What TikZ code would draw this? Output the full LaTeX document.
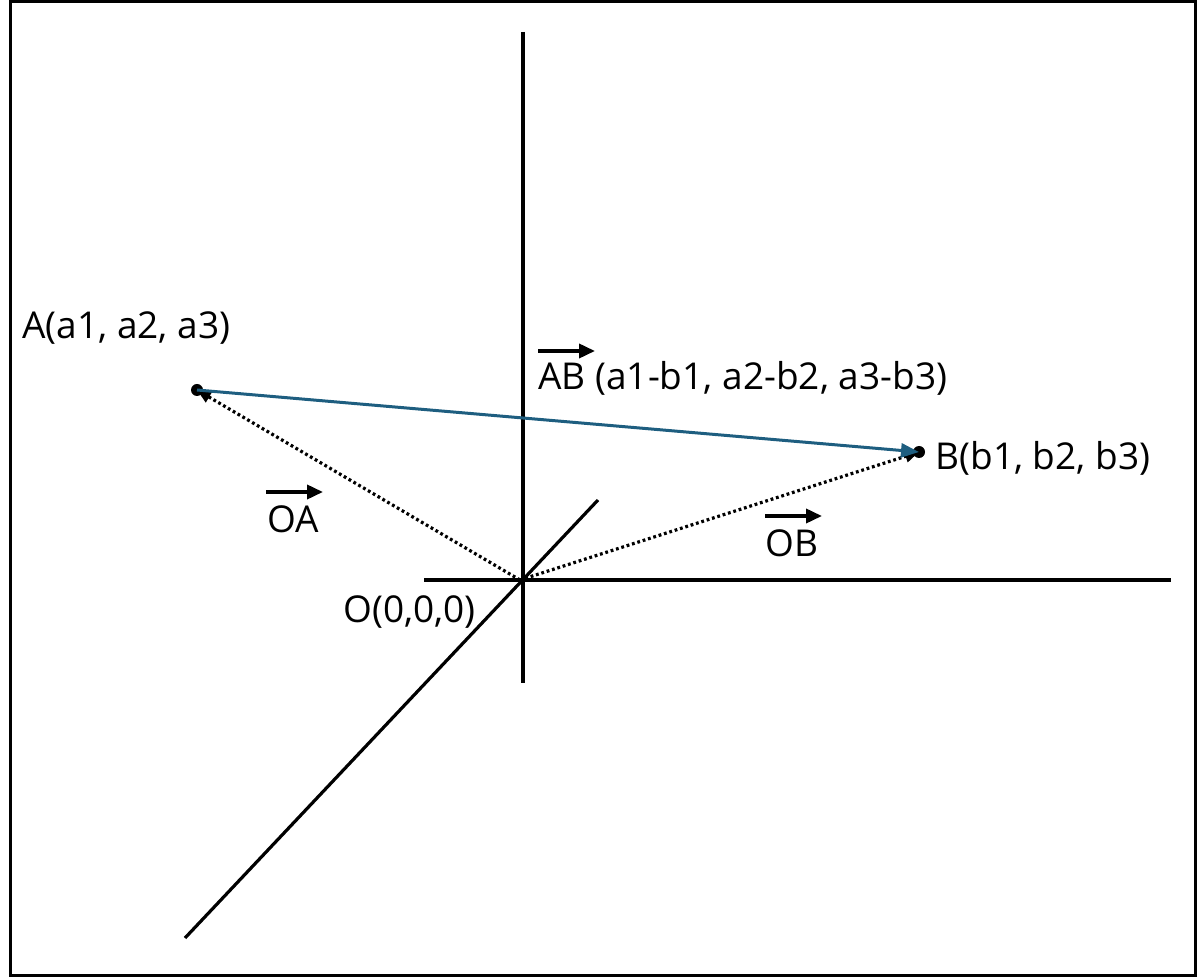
\documentclass[tikz,border=0pt]{standalone}
\usepackage{fontspec}
\setmainfont{Open Sans}
\usetikzlibrary{arrows.meta}
\definecolor{vecblue}{RGB}{30,94,128}
\begin{document}
\begin{tikzpicture}[x=0.5pt,y=-0.5pt,
  axis/.style={line width=1.6pt},
  lbl/.style={inner sep=0pt,font=\fontsize{18.5}{20}\selectfont},
  dotvec/.style={line width=1.6pt,dash pattern=on 1.4pt off 1.4pt,-{Triangle[length=7pt,width=6pt]}},
  overarrow/.style={line width=1.8pt,-{Triangle[length=8pt,width=7pt]}},
  ptdot/.style={circle,fill=black,inner sep=0pt,minimum size=6pt}]
\useasboundingbox (0,0) rectangle (1198,977);
\draw[line width=1.5pt] (10,2) rectangle (1195,975);
% axes
\coordinate (ytop) at (523,32);
\coordinate (ybot) at (523,683);
\coordinate (xl) at (424,580);
\coordinate (xr) at (1171,580);
\coordinate (zl) at (185,938);
\coordinate (zr) at (598,500);
\draw[axis] (ytop) -- (ybot);
\draw[axis] (xl) -- (xr);
\draw[axis] (zl) -- (zr);
\coordinate (O) at (520,580);
\node[ptdot] (A) at (197,390) {};
\node[ptdot] (B) at (919,452) {};
\draw[dotvec] (O) -- (A.center);
\draw[dotvec] (O) -- (B.center);
\draw[line width=1.5pt,vecblue,-{Triangle[length=9pt,width=7pt]}] (A.center) -- (B.center);
% labels
\node[lbl,anchor=west] (Alab) at (22,328) {A(a1, a2, a3)};
\node[lbl,anchor=west] (Blab) at (935,458) {B(b1, b2, b3)};
\node[lbl,anchor=west] (ABlab) at (538,378) {AB (a1-b1, a2-b2, a3-b3)};
\coordinate (abs) at (538,351); \coordinate (abe) at (595,351);
\draw[overarrow] (abs) -- (abe);
\node[lbl,anchor=west] (OAlab) at (267,519) {OA};
\coordinate (oas) at (266,492); \coordinate (oae) at (323,492);
\draw[overarrow] (oas) -- (oae);
\node[lbl,anchor=west] (OBlab) at (765,543) {OB};
\coordinate (obs) at (765,516); \coordinate (obe) at (822,516);
\draw[overarrow] (obs) -- (obe);
\node[lbl,anchor=west] (Olab) at (343,612) {O(0,0,0)};
\end{tikzpicture}
\end{document}
